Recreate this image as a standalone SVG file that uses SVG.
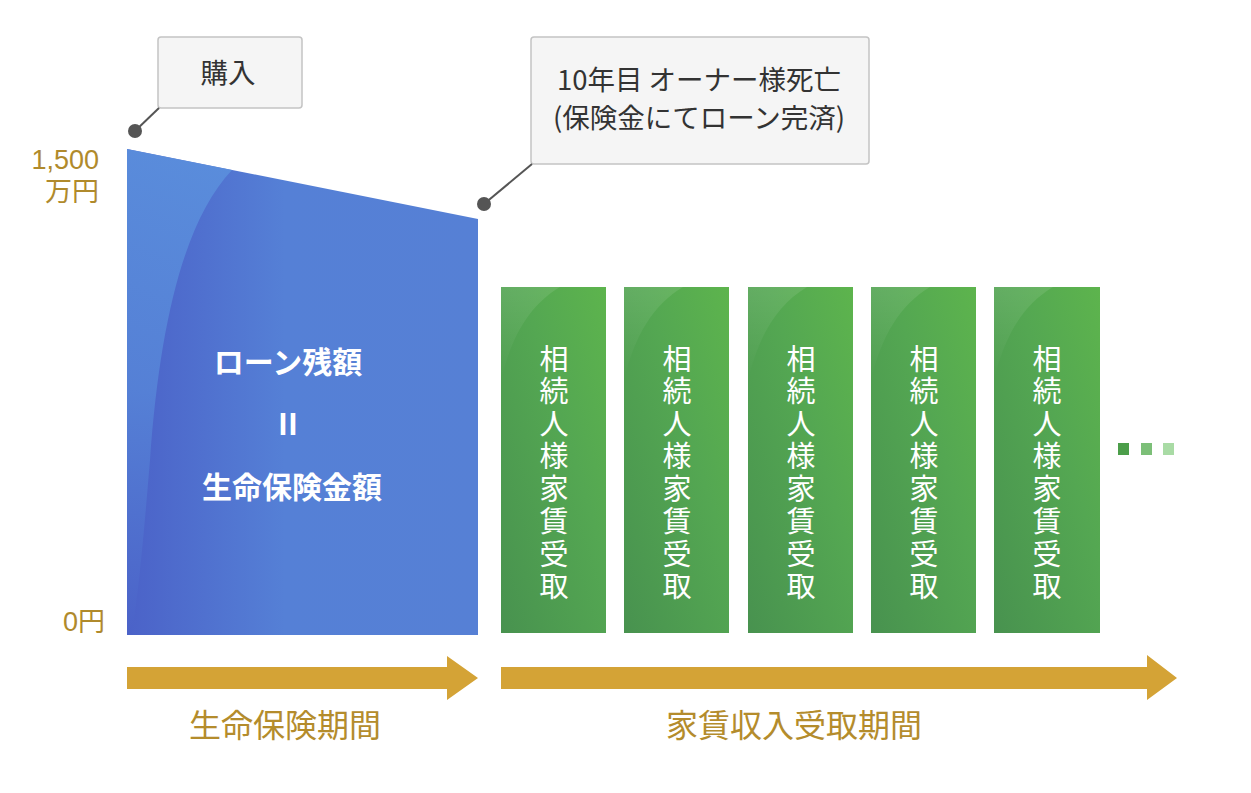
<svg xmlns="http://www.w3.org/2000/svg" width="1251" height="793" viewBox="0 0 1251 793">
<defs>
<style>
.jp{font-family:"Noto Sans CJK JP","Noto Sans",sans-serif;}
.ax{font-family:"Liberation Sans","Noto Sans CJK JP",sans-serif;}
.call{font-size:27.5px;fill:#333333;text-anchor:middle;}
.axis{font-size:27px;fill:#b08a2c;text-anchor:end;}
.white{font-size:30px;font-weight:bold;fill:#ffffff;text-anchor:middle;}
.vt{font-size:29px;fill:#ffffff;writing-mode:vertical-rl;letter-spacing:3.5px;}
.period{font-size:32px;fill:#b48c2c;text-anchor:middle;}
.box{fill:#f5f5f5;stroke:#c4c4c4;stroke-width:1.5;}
.lead{stroke:#555555;stroke-width:2;fill:none;}
.dot{fill:#555555;}
.arrow{fill:#d4a336;}
.green{fill:url(#gGreen);}
.gshine{fill:url(#gShine);}
</style>
<linearGradient id="gBlue" x1="0" y1="0" x2="1" y2="0">
<stop offset="0" stop-color="#4b62c8"/>
<stop offset="0.45" stop-color="#5580d6"/>
<stop offset="1" stop-color="#5680d5"/>
</linearGradient>
<linearGradient id="gBlueHi" x1="0" y1="0" x2="0" y2="1">
<stop offset="0" stop-color="#5b90dd"/>
<stop offset="0.5" stop-color="#5683d7"/>
<stop offset="1" stop-color="#4b62c8"/>
</linearGradient>
<linearGradient id="gGreen" x1="0" y1="1" x2="1" y2="0">
<stop offset="0" stop-color="#48924f"/>
<stop offset="0.6" stop-color="#54a752"/>
<stop offset="1" stop-color="#5db44d"/>
</linearGradient>
<linearGradient id="gShine" x1="0" y1="0" x2="0" y2="1">
<stop offset="0" stop-color="#ffffff" stop-opacity="0.10"/>
<stop offset="1" stop-color="#ffffff" stop-opacity="0"/>
</linearGradient>
</defs>
<rect width="1251" height="793" fill="#ffffff"/>

<g id="loan-area">
<polygon points="127,149 478,219 478,635 127,635" fill="url(#gBlue)"/>
<path d="M127,149 L232,170 C185,220 160,320 150,460 C145,520 140,580 132,635 L127,635 Z" fill="url(#gBlueHi)" opacity="0.9"/>
<text class="jp white" x="288" y="373">ローン残額</text>
<text class="jp white" x="288" y="435">II</text>
<text class="jp white" x="292" y="498">生命保険金額</text>
</g>

<g id="axis-labels">
<text class="ax axis" x="99" y="169">1,500</text>
<text class="ax axis" x="99" y="201">万円</text>
<text class="ax axis" x="105" y="631">0円</text>
</g>

<g id="callout-purchase">
<rect class="box" x="158" y="37" width="144" height="71" rx="3"/>
<text class="jp call" x="228" y="83">購入</text>
</g>

<g id="callout-death">
<rect class="box" x="531" y="37" width="338" height="127" rx="3"/>
<text class="jp call" x="699" y="90">10年目 オーナー様死亡</text>
<text class="jp call" x="699" y="128">(保険金にてローン完済)</text>
</g>

<g id="rent-1">
<rect class="green" x="501" y="287" width="105" height="346"/>
<path class="gshine" d="M501,287 L560,287 C530,305 512,335 501,380 Z"/>
<text class="jp vt" x="554" y="344">相続人様家賃受取</text>
</g>
<g id="rent-2">
<rect class="green" x="624" y="287" width="105" height="346"/>
<path class="gshine" d="M624,287 L683,287 C653,305 635,335 624,380 Z"/>
<text class="jp vt" x="677" y="344">相続人様家賃受取</text>
</g>
<g id="rent-3">
<rect class="green" x="748" y="287" width="105" height="346"/>
<path class="gshine" d="M748,287 L807,287 C777,305 759,335 748,380 Z"/>
<text class="jp vt" x="801" y="344">相続人様家賃受取</text>
</g>
<g id="rent-4">
<rect class="green" x="871" y="287" width="105" height="346"/>
<path class="gshine" d="M871,287 L930,287 C900,305 882,335 871,380 Z"/>
<text class="jp vt" x="924" y="344">相続人様家賃受取</text>
</g>
<g id="rent-5">
<rect class="green" x="994" y="287" width="106" height="346"/>
<path class="gshine" d="M994,287 L1053,287 C1023,305 1005,335 994,380 Z"/>
<text class="jp vt" x="1047" y="344">相続人様家賃受取</text>
</g>

<g id="ellipsis">
<rect x="1118" y="443" width="11" height="12" fill="#4c9e4a"/>
<rect x="1141" y="443" width="11" height="12" fill="#7cbf78"/>
<rect x="1163" y="443" width="11" height="12" fill="#a9dba5"/>
</g>

<g id="connectors">
<polyline class="lead" points="135,131 159,108"/>
<circle class="dot" cx="135" cy="131" r="7"/>
<polyline class="lead" points="484,204 532,164"/>
<circle class="dot" cx="484" cy="204" r="7"/>
<polygon class="arrow" points="127,667 447,667 447,656 478,678 447,700 447,689 127,689"/>
<polygon class="arrow" points="501,667 1147,667 1147,655 1177,678 1147,700 1147,689 501,689"/>
</g>

<g id="period-labels">
<text class="jp period" x="285" y="737">生命保険期間</text>
<text class="jp period" x="794" y="737">家賃収入受取期間</text>
</g>
</svg>
